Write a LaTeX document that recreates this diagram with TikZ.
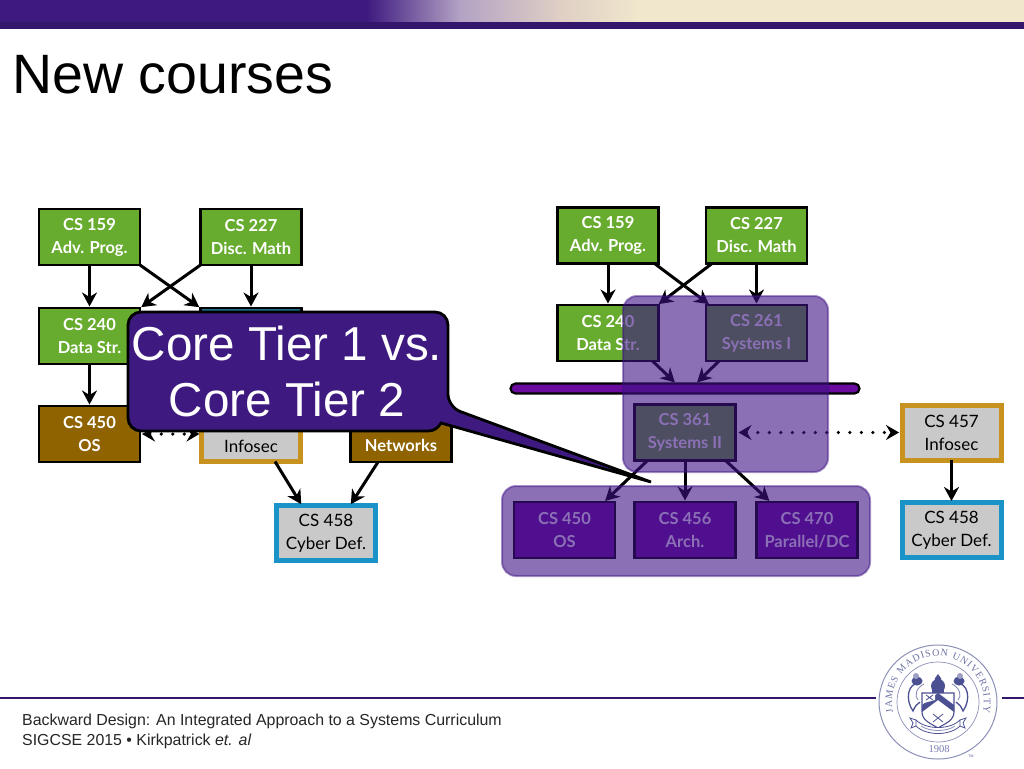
\documentclass[tikz,border=0pt]{standalone}
\usepackage{fontspec}
\setmainfont{Liberation Sans}
\newfontfamily\gill{Lato}
\newfontfamily\sealfont{Liberation Serif}
\usetikzlibrary{arrows.meta,decorations.text,shadings}
\definecolor{jmu}{HTML}{3E1A80}
\definecolor{cream}{HTML}{F0E7CC}
\definecolor{midpink}{HTML}{DFCFC4}
\definecolor{midlav}{HTML}{B3A2C4}
\definecolor{grn}{HTML}{67AB2F}
\definecolor{teal}{HTML}{1C6E8E}
\definecolor{brn}{HTML}{8F6400}
\definecolor{gold}{HTML}{C8921E}
\definecolor{skyb}{HTML}{1A94C8}
\definecolor{gry}{HTML}{C9C9C9}
\definecolor{viol}{HTML}{690C9E}
\definecolor{over}{HTML}{3E1185}
\definecolor{sealb}{HTML}{4A5092}
\definecolor{seall}{HTML}{8C90B8}
\tikzset{
  cbox/.style={draw=black,line width=2.8pt,outer sep=0pt,inner sep=0pt,align=center,
    minimum width=#1,minimum height=56pt,
    font=\gill\bfseries\fontsize{16.5}{23}\selectfont,text=white},
  cbox/.default=101pt,
  greenbox/.style={cbox,fill=grn},
  tealbox/.style={cbox,fill=teal},
  brownbox/.style={cbox,fill=brn},
  violbox/.style={cbox,fill=viol},
  goldbox/.style={cbox=99pt,fill=gry,draw=gold,line width=5pt,text=black,minimum height=55pt,
    font=\gill\fontsize{17}{23}\selectfont},
  bluebox/.style={cbox=99pt,fill=gry,draw=skyb,line width=5pt,text=black,minimum height=55pt,
    font=\gill\fontsize{17}{23}\selectfont},
  solidarrow/.style={draw=black,line width=3pt,shorten >=1.5pt,-{Stealth[length=14pt,width=15pt,inset=4.5pt]}},
  dotarrow/.style={draw=black,line width=3.6pt,line cap=round,dash pattern=on 0pt off 11.5pt,
    {Stealth[length=13pt,width=15pt,inset=4.5pt]}-{Stealth[length=13pt,width=15pt,inset=4.5pt]}},
  groupbox/.style={fill=over,draw=over,fill opacity=.6,draw opacity=.45,line width=2pt,rounded corners=14pt},
  sealline/.style={draw=seall,line width=1pt},
  labelnode/.style={inner sep=0pt},
}
\begin{document}
\begin{tikzpicture}[x=1pt,y=-1pt]
\useasboundingbox (0,0) rectangle (1024,768);
\fill[white] (0,0) rectangle (1024,768);
% top band
\fill[jmu] (0,0) rectangle (367,22);
\shade[left color=jmu,right color=midlav] (366.5,0) rectangle (460,22);
\shade[left color=midlav,right color=midpink] (459.5,0) rectangle (560,22);
\shade[left color=midpink,right color=cream] (559.5,0) rectangle (640,22);
\fill[cream] (639.5,0) rectangle (1024,22);
\fill[jmu!85!black] (0,22) rectangle (1024,29);
% title
\node[anchor=base west,inner sep=0pt,font=\fontsize{55.5}{60}\selectfont,text=black] (title) at (12,93) {New courses};
% footer
\fill[jmu!85!black] (0,696.7) rectangle (876,698.5);
\fill[jmu!85!black] (1002,696.7) rectangle (1024,698.5);
\node[anchor=north west,inner sep=0pt,align=left,font=\fontsize{15.9}{20}\selectfont,text=black!85] (foot) at (22,713.5)
  {Backward Design: An Integrated Approach to a Systems Curriculum\\SIGCSE 2015 • Kirkpatrick \textit{et. al}};
% seal
\begin{scope}[shift={(938,702)},y=1pt]
  \draw[sealline] (0,0) ellipse (59 and 57);
  \draw[sealline,line width=.7pt] (0,0) ellipse (41 and 40);
  \path[decorate,decoration={text along path,text align=fit to path,
    text={|\sealfont\fontsize{10}{12}\selectfont\color{sealb!80}|JAMES MADISON UNIVERSITY}}]
    (193:46) arc (193:-13:46);
  \node[font=\sealfont\fontsize{10.5}{11}\selectfont,text=sealb!75,inner sep=0pt] (yr) at (1,-47) {1908};
  \node[font=\fontsize{3.5}{4}\selectfont,text=sealb,inner sep=0pt] (tm) at (33,-54) {TM};
  % shield
  \draw[draw=sealb,line width=1.1pt,fill=white] (-16,9) -- (16,9) -- (16,-10) .. controls (16,-19) and (6,-22) .. (0,-26) .. controls (-6,-22) and (-16,-19) .. (-16,-10) -- cycle;
  \fill[sealb] (-16,-3) -- (0,9) -- (16,-3) -- (16,-10) -- (0,2) -- (-16,-10) -- cycle;
  \fill[white] (-14,8) -- (-3,8) -- (-3,2) -- (-14,-1) -- cycle;
  \draw[sealb,line width=.8pt] (-12,7) -- (-5,2) (-5,7) -- (-12,2);
  \draw[sealb,line width=.8pt] (-5,-12) -- (5,-20) (5,-12) -- (-5,-20);
  % helmets and mantling
  \fill[sealb] (0,16) circle (7);
  \fill[sealb] (-6,9) rectangle (6,15);
  \fill[sealb] (0,28) -- (-3.5,23) -- (0,19) -- (3.5,23) -- cycle;
  \fill[sealb] (-21,21) ellipse (5.5 and 4.5);
  \fill[sealb] (21,21) ellipse (5.5 and 4.5);
  \fill[sealb!55] (-22,26) circle (3);
  \fill[sealb!55] (22,26) circle (3);
  \draw[sealb,line width=1.3pt] (-17,19) .. controls (-31,20) and (-33,2) .. (-25,-9) .. controls (-23,-4) and (-21,-2) .. (-18,0);
  \draw[sealb,line width=1.3pt] (17,19) .. controls (31,20) and (33,2) .. (25,-9) .. controls (23,-4) and (21,-2) .. (18,0);
  \draw[seall,line width=.9pt] (-14,18) .. controls (-22,14) and (-24,6) .. (-20,2);
  \draw[seall,line width=.9pt] (14,18) .. controls (22,14) and (24,6) .. (20,2);
  % ribbon
  \draw[sealb,line width=.8pt,fill=white] (-22,-18) .. controls (-12,-28) and (12,-28) .. (22,-18) -- (22,-24) .. controls (12,-34) and (-12,-34) .. (-22,-24) -- cycle;
  \draw[seall,line width=.8pt] (-17,-24) .. controls (-8,-30) and (8,-30) .. (17,-24);
  \draw[sealb,line width=.8pt] (-22,-18) -- (-28,-16) -- (-25,-21) -- (-27,-26) -- (-22,-24);
  \draw[sealb,line width=.8pt] (22,-18) -- (28,-16) -- (25,-21) -- (27,-26) -- (22,-24);
\end{scope}
% ---- left diagram
\node[greenbox] (la) at (89.5,237) {CS 159\\Adv. Prog.};
\node[greenbox] (lb) at (251,237) {CS 227\\Disc. Math};
\node[greenbox] (lc) at (89.5,336) {CS 240\\Data Str.};
\node[tealbox] (ld) at (251,336) {};
\node[brownbox] (le) at (89.5,434) {CS 450\\OS};
\node[goldbox] (lf) at (251,434) {};
\node[brownbox] (lg) at (401,434) {};
\node[bluebox] (lh) at (326,533) {CS 458\\Cyber Def.};
\node[labelnode,text=black,font=\gill\fontsize{17}{23}\selectfont] (lf1) at (251,446) {Infosec};
\node[labelnode,text=white,font=\gill\bfseries\fontsize{16.5}{23}\selectfont] (lg1) at (401,445) {Networks};
\draw[solidarrow] (la) -- (lc);
\draw[solidarrow] (lb) -- (ld);
\draw[solidarrow] (la.south east) -- (ld.north west);
\draw[solidarrow] (lb.south west) -- (lc.north east);
\draw[solidarrow] (lc) -- (le);
\draw[dotarrow] ([xshift=2pt]le.east) -- ([xshift=-2pt]lf.west);
\draw[solidarrow] ([xshift=24pt]lf.south) -- ([xshift=-24pt]lh.north);
\draw[solidarrow] ([xshift=-23pt]lg.south) -- ([xshift=24pt]lh.north);
% ---- right diagram
\node[greenbox] (ra) at (608,235.5) {CS 159\\Adv. Prog.};
\node[greenbox] (rb) at (756.5,235.5) {CS 227\\Disc. Math};
\node[greenbox] (rc) at (608,333) {CS 240\\Data Str.};
\node[greenbox] (rd) at (756.5,333) {CS 261\\Systems I};
\node[draw=black,line width=2.2pt,fill=viol,rounded corners=5pt,minimum width=349pt,minimum height=10pt,inner sep=0pt,outer sep=0pt] (rbar) at (685,388.5) {};
\node[greenbox] (re) at (685,432.5) {CS 361\\Systems II};
\node[violbox] (rf) at (564.5,530) {CS 450\\OS};
\node[violbox] (rg) at (685,530) {CS 456\\Arch.};
\node[violbox] (rh) at (807,530) {CS 470\\Parallel/DC};
\node[goldbox] (ri) at (951.5,432.5) {CS 457\\Infosec};
\node[bluebox] (rj) at (951.5,530) {CS 458\\Cyber Def.};
\draw[solidarrow] (ra) -- (rc);
\draw[solidarrow] (rb) -- (rd);
\draw[solidarrow] ([xshift=-4pt]ra.south east) -- ([xshift=4pt]rd.north west);
\draw[solidarrow] ([xshift=6pt]rb.south west) -- ([xshift=-1pt]rc.north east);
\draw[solidarrow] ([xshift=-6pt]rc.south east) -- ([xshift=-9pt]rbar.north);
\draw[solidarrow] ([xshift=13pt]rd.south west) -- ([xshift=11pt]rbar.north);
\draw[solidarrow] ([xshift=13pt]re.south west) -- ([xshift=-11pt]rf.north east);
\draw[solidarrow] (re) -- (rg);
\draw[solidarrow] ([xshift=-10pt]re.south east) -- ([xshift=14pt]rh.north west);
\draw[dotarrow] ([xshift=3pt]re.east) -- ([xshift=-3pt]ri.west);
\draw[solidarrow] (ri) -- (rj);
% translucent groups
\path[groupbox] (623,296) rectangle (828,472);
\path[groupbox] (502,486) rectangle (870,576);
% callout
\draw[fill=jmu,draw=black,line width=2.8pt,rounded corners=13pt]
  (288,312) -- (448,312) -- (448,407) [sharp corners] -- (651,482) -- (441,423)
  .. controls (438,428) and (434,431) .. (428,431) [rounded corners=13pt] -- (128,431) -- (128,312) -- cycle;
\node[align=center,inner sep=0pt,text=white,font=\fontsize{47.6}{56}\selectfont] (callout) at (287,371) {Core Tier 1 vs.\\Core Tier 2};
\end{tikzpicture}
\end{document}
